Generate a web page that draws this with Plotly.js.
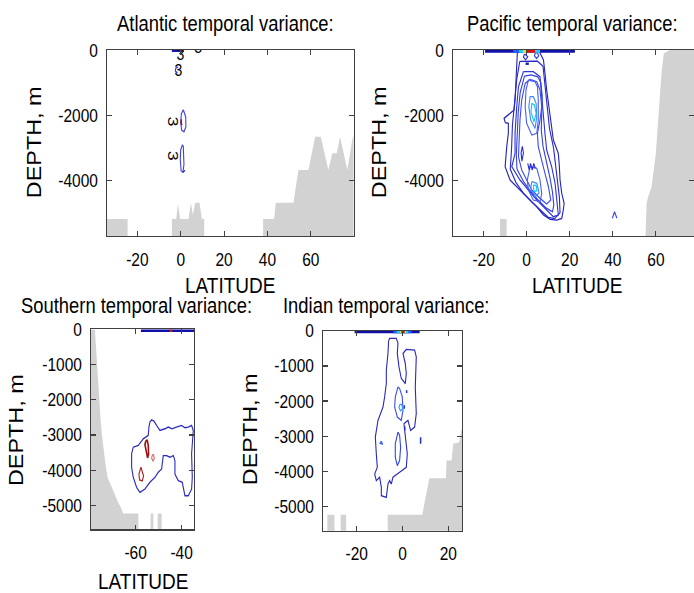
<!DOCTYPE html>
<html>
<head>
<meta charset="utf-8">
<script src="https://cdn.plot.ly/plotly-3.0.1.min.js"></script>
<style>
html,body{margin:0;padding:0;background:#fff;width:694px;height:593px;overflow:hidden;}
#chart{width:694px;height:494px;transform:scaleY(1.20040);transform-origin:0 0;}
</style>
</head>
<body>
<div id="chart"></div>
<script>
// ---------------- DATA ----------------
const panelTitles = ['Atlantic temporal variance:', 'Pacific temporal variance:', 'Southern temporal variance:', 'Indian temporal variance:'];
const xAxisTitle = 'LATITUDE';
const yAxisTitle = 'DEPTH, m';

const depthTicksTop = [0, -2000, -4000];
const depthTickTextTop = ['0', '-2000', '-4000'];
const depthTicksBottom = [0, -1000, -2000, -3000, -4000, -5000];
const depthTickTextBottom = ['0', '-1000', '-2000', '-3000', '-4000', '-5000'];
const latTicksAtl = [-20, 0, 20, 40, 60];
const latTickTextAtl = ['-20', '0', '20', '40', '60'];
const latTicksSou = [-60, -40];
const latTickTextSou = ['-60', '-40'];
const latTicksInd = [-20, 0, 20];
const latTickTextInd = ['-20', '0', '20'];

// Atlantic bathymetry (latitude, depth)
const atlBath1Lat = [-34, -34, -24.5, -24.5];
const atlBath1Dep = [-5700, -5171, -5171, -5700];
const atlBath2Lat = [-4.07, -4.07, -2.07, -1.3, -0.23, 3.6, 4.69, 5.6, 6.68, 8.66, 9.76, 10.83, 10.83];
const atlBath2Dep = [-5700, -5171, -5171, -4712, -5171, -5171, -4672, -5050, -4672, -4672, -5171, -5171, -5700];
const atlBath3Lat = [38.0, 38.0, 43.1, 43.85, 51.98, 54.3, 58.9, 62.0, 64.6, 68.1, 69.95, 71.98, 73.5, 76.86, 79.35, 81, 81];
const atlBath3Dep = [-5700, -5171, -5171, -4672, -4672, -3672, -3672, -2653, -2653, -3672, -3161, -3161, -2653, -3672, -2653, -2653, -5700];

// Atlantic contours
const atlSurfLat = [-4.1, 1.3];
const atlSurfDep = [-15, -15];
const atlSurfRedLat = [0.3, 1.3];
const atlSurfRedDep = [-15, -15];
const atlArcLat = [-1.2, -2.3, -2.5, -1.5];
const atlArcDep = [-520, -560, -640, -700];
const atlLoop1Lat = [1.2, 0.3, 0.0, 0.4, 1.5, 2.4, 2.3, 1.2];
const atlLoop1Dep = [-1830, -1950, -2200, -2450, -2500, -2350, -2050, -1830];
const atlLoop1RedLat = [0.3, 0.2, 0.5];
const atlLoop1RedDep = [-2120, -2220, -2300];
const atlLoop2Lat = [0.8, 0.0, -0.2, 0.2, 1.0, 1.5, 1.3, 1.2, 0.8];
const atlLoop2Dep = [-2900, -3050, -3350, -3700, -3740, -3500, -3150, -2950, -2900];
const atlTailLat = [1.0, 2.0];
const atlTailDep = [-3740, -3680];
// contour labels "3"
const atlLabelLat = [-0.1, -1.1, 8.1];
const atlLabelDep = [-170, -660, 40];
const atlLabelText = ['3', '3', '3'];
const atlRotLabelLat = [-3.4, -3.4];
const atlRotLabelDep = [-2194, -3244];

// Pacific bathymetry
const pacBath1Lat = [-12.4, -12.4, -9.3, -9.3];
const pacBath1Dep = [-5700, -5171, -5171, -5700];
const pacBath2Lat = [55.2, 55.7, 56.4, 58.0, 60.0, 61.5, 62.6, 63.7, 66.5, 80, 80];
const pacBath2Dep = [-5700, -4691, -4489, -4183, -3161, -1735, -713, -101, 0, 0, -5700];

// Pacific contours (outer to inner)
const pacC1Lat = [-4.3, -4.6, -4.9, -5.4, -5.85, -8.5, -10.5, -9.9, -8.5, -8.5, -9.25, -10.0, -7.7, -3.1, 0.8, 4.7, 7.8, 10.9, 14.0, 16.3, 17.0, 17.4, 16.3, 15.5, 15.2, 14.7, 12.4, 11.6, 10.1, 9.3, 8.5, 7.8, 5.9, -4.3];
const pacC1Dep = [-51, -510, -918, -1530, -1836, -1989, -2091, -2224, -2244, -2550, -2958, -3570, -3978, -4284, -4539, -4794, -5049, -5182, -5202, -5151, -4896, -4692, -4386, -3978, -3570, -3162, -2754, -2346, -1734, -1224, -714, -306, -51, -51];
const pacC1bLat = [-3.2, -4.6, -5.6, -6.6, -7.0, -7.6, -5.0, -1.5, 2.5, 6.5, 10.0, 13.0, 15.5, 15.2, 14.2, 13.5, 12.5, 10.6, 9.6, 8.6, 7.6, 5.0, -3.2];
const pacC1bDep = [-350, -900, -1600, -2300, -3000, -3650, -4050, -4380, -4660, -4920, -5120, -5160, -4980, -4500, -4000, -3500, -3000, -2400, -1700, -1000, -500, -340, -350];
const pacC2Lat = [-1.5, -3.8, -4.6, -5.4, -5.4, -6.9, -3.1, 0.8, 4.7, 9.3, 12.4, 14.7, 14.0, 13.2, 11.6, 9.3, 8.5, 7.8, 7.0, 6.2, 3.1, -1.5];
const pacC2Dep = [-663, -1122, -1734, -2550, -3162, -3570, -3978, -4284, -4590, -4896, -5100, -5049, -4590, -4080, -3570, -3060, -2550, -1938, -1224, -816, -663, -663];
const pacC2bLat = [-1.0, -3.0, -3.9, -4.4, -4.8, -4.5, -1.5, 1.6, 5.2, 9.0, 12.0, 12.6, 12.0, 10.8, 9.2, 7.6, 6.8, 6.9, 7.2, 6.6, 5.2, 2.0, -1.0];
const pacC2bDep = [-800, -1300, -1900, -2600, -3200, -3640, -4020, -4300, -4580, -4830, -4950, -4750, -4350, -3900, -3450, -2950, -2450, -1900, -1400, -1000, -820, -760, -800];
const pacC3Lat = [-0.7, -2.3, -3.1, -3.4, -3.8, -2.3, 0.0, 2.4, 6.2, 9.3, 11.2, 10.1, 8.5, 7.0, 5.4, 5.0, 6.2, 7.0, 6.2, 4.7, 1.6, -0.7];
const pacC3Dep = [-1020, -1530, -2142, -2754, -3264, -3672, -3978, -4284, -4539, -4712, -4590, -4182, -3774, -3366, -2958, -2550, -2142, -1734, -1224, -969, -898, -1020];
const pacC4uLat = [0.8, -0.3, -0.7, 0.0, 2.4, 4.7, 5.4, 5.4, 5.0, 3.9, 0.8];
const pacC4uDep = [-918, -1224, -1734, -2244, -2601, -2550, -2142, -1530, -1122, -969, -918];
const pacC4lLat = [1.6, 0.3, 0.8, 3.1, 6.2, 7.0, 6.2, 4.7, 1.6];
const pacC4lDep = [-3570, -3978, -4284, -4590, -4641, -4386, -3978, -3621, -3570];
const pacC5uLat = [1.6, 1.0, 1.9, 3.9, 4.7, 4.4, 3.1, 1.6];
const pacC5uDep = [-1428, -1734, -2142, -2397, -2040, -1632, -1428, -1428];
const pacC5lLat = [2.4, 1.9, 3.9, 5.8, 4.7, 2.4];
const pacC5lDep = [-4029, -4233, -4488, -4366, -4080, -4029];
const pacC6uLat = [2.4, 2.0, 3.4, 4.4, 3.6, 2.4];
const pacC6uDep = [-1632, -1887, -2193, -1938, -1683, -1632];
const pacC6lLat = [3.1, 3.4, 4.8, 4.4, 3.1];
const pacC6lDep = [-4131, -4335, -4304, -4141, -4131];
const pacBitLoopLat = [-2.0, -2.6, -2.2, -1.5, -2.0];
const pacBitLoopDep = [-2950, -3150, -3400, -3150, -2950];
const pacZigLat = [0.5, 1.2, 1.8, 2.6, 3.3, 4.0];
const pacZigDep = [-3470, -3670, -3470, -3670, -3470, -3620];
const pacSurfLoop1Lat = [-1.0, -1.5, -0.5, 0.5, -1.0];
const pacSurfLoop1Dep = [-120, -220, -300, -200, -120];
const pacSurfDashLat = [-0.5, 1.0];
const pacSurfDashDep = [-420, -420];
const pacSurfLoop2Lat = [4.0, 3.6, 4.6, 5.6, 5.0, 4.0];
const pacSurfLoop2Dep = [-90, -180, -260, -180, -90, -90];
const pacCaretLat = [39.8, 40.8, 41.9];
const pacCaretDep = [-5150, -4950, -5150];
// Pacific surface band (jet colours)
const pacSurfLat = [-19.3, 22.4];
const pacSurfBlueLat = [-6.3, 6.2];
const pacSurfCyanLat = [-3.5, 6.2];
const pacSurfYellowLat = [-1.7, 0.1];
const pacSurfRedLat = [0.1, 3.9];
const surfDep = [-30, -30];

// Southern bathymetry
const souBath1Lat = [-80, -80, -77.7, -77.4, -77.1, -76.7, -76.2, -75.8, -75.2, -74.5, -73.9, -73.1, -72.2, -70.5, -68.7, -67.6, -66.4, -65.4, -58.8, -58.8];
const souBath1Dep = [-5700, 0, 0, -300, -776, -1252, -1729, -2157, -2586, -3062, -3443, -3824, -4205, -4491, -4776, -4919, -5062, -5233, -5233, -5700];
const souBath2Lat = [-53.5, -53.5, -52.3, -52.3];
const souBath2Dep = [-5700, -5233, -5233, -5700];
const souBath3Lat = [-50.4, -50.4, -48.7, -48.7];
const souBath3Dep = [-5700, -5233, -5233, -5700];
// Southern contours
const souBlueLat = [-61.03, -61.75, -61.75, -61.03, -59.58, -58.13, -55.96, -53.78, -51.61, -50.16, -48.71, -48.42, -47.99, -46.54, -45.09, -43.64, -42.92, -42.92, -41.47, -39.73, -39.29, -38.57, -37.12, -35.67, -35.38, -35.67, -34.95, -35.67, -37.12, -38.57, -40.02, -41.47, -42.92, -44.08, -45.82, -47.27, -49.44, -50.89, -52.05, -53.06, -53.78, -54.22, -54.51, -56.68, -58.86, -60.31, -61.03];
const souBlueDep = [-3348, -3538, -3919, -4205, -4491, -4633, -4538, -4348, -4205, -4062, -3967, -3729, -3586, -3586, -3634, -3586, -3729, -4110, -4300, -4348, -4538, -4729, -4729, -4538, -4205, -3538, -2872, -2729, -2776, -2795, -2729, -2776, -2795, -2824, -2776, -2824, -2872, -2729, -2605, -2567, -2633, -2776, -3014, -3110, -3300, -3329, -3348];
const souRed1Lat = [-55.52, -55.96, -55.38, -54.80, -54.37, -54.51, -54.94, -55.52];
const souRed1Dep = [-3157, -3271, -3462, -3653, -3538, -3300, -3157, -3157];
const souRed2Lat = [-52.63, -53.06, -52.48, -51.90, -52.19, -52.63];
const souRed2Dep = [-3557, -3653, -3748, -3672, -3567, -3557];
const souRed3Lat = [-57.70, -58.57, -58.28, -57.12, -56.54, -57.26, -57.70];
const souRed3Dep = [-3919, -4110, -4281, -4310, -4167, -3996, -3919];
const souSurfLat = [-57.7, -34.5];
const souSurfRedLat = [-45.1, -44.1];

// Indian bathymetry
const indBath1Lat = [-32.8, -32.8, -29.7, -29.7];
const indBath1Dep = [-5700, -5238, -5238, -5700];
const indBath2Lat = [-27.0, -27.0, -24.6, -24.6];
const indBath2Dep = [-5700, -5238, -5238, -5700];
const indBath3Lat = [-6.46, -6.46, 8.66, 11.71, 18.98, 19.27, 21.45, 22.18, 24.8, 25.67, 27, 27];
const indBath3Dep = [-5700, -5238, -5238, -4199, -4199, -3694, -3694, -3217, -3170, -2836, -2700, -5700];
// Indian contours
const indALat = [-6.04, -6.33, -7.05, -7.05, -7.78, -8.51, -10.69, -11.85, -11.42, -10.98, -12.14, -11.42, -9.96, -9.23, -9.23, -7.05, -6.33, -5.60, -4.87, -4.15, -1.24, 1.67, 2.11, 1.67, 1.23, 0.65, 2.40, 3.56, 5.31, 6.03, 5.60, 6.03, 5.31, 1.67, 0.22, 1.23, 1.67, 1.23, -0.51, -1.53, -2.25, -1.96, -2.69, -5.60, -6.04];
const indADep = [-282, -644, -1121, -1502, -1883, -2169, -2550, -3027, -3503, -3884, -4075, -4265, -4170, -4456, -4694, -4742, -4361, -4265, -4361, -4170, -4027, -3884, -3503, -3217, -2931, -2645, -2550, -2836, -2741, -2359, -1597, -740, -549, -530, -644, -930, -1216, -1502, -1359, -1025, -644, -358, -215, -215, -282];
const indBLat = [-1.96, -3.13, -3.42, -2.25, -0.51, 0.22, -0.07, -1.24, -1.96];
const indBDep = [-1597, -1883, -2169, -2455, -2550, -2264, -1883, -1645, -1597];
const indCLat = [-1.09, -1.53, -0.80, 0.07, -0.37, -1.09];
const indCDep = [-2093, -2188, -2283, -2207, -2093, -2093];
const indDLat = [-1.96, -3.13, -3.13, -2.25, -1.24, -0.80, -1.24, -1.96];
const indDDep = [-2884, -3217, -3598, -3837, -3694, -3313, -2979, -2884];
const indELat = [-9.23, -9.82, -8.65, -9.23];
const indEDep = [-3141, -3198, -3236, -3141];
const indDash1Lat = [1.82, 1.82];
const indDash1Dep = [-1693, -1769];
const indDash2Lat = [0.80, 0.80];
const indDash2Dep = [-2121, -2217];
const indDash3Lat = [0.94, 1.09];
const indDash3Dep = [-2722, -2836];
const indDash4Lat = [7.92, 7.92];
const indDash4Dep = [-3027, -3217];
const indSurfLat = [-20.9, 7.5];
const indSurfBlueLat = [-4.0, 4.0];
const indSurfCyanLat = [-2.5, 2.5];
const indSurfYellowLat = [-1.0, 1.5];
const indSurfRedLat = [-0.5, 1.0];

// ---------------- STYLE / LAYOUT ----------------
// The reference figure is vertically stretched (narrow, tall lettering);
// the chart is laid out at 694x494 and stretched to 694x593 by CSS.
const FONT = '"Liberation Sans", Arial, sans-serif';
const GREY = '#d2d2d2';
const AXC = '#404040';
const W = 694, H = 593, HL = 494;

const traces = [];
function fillPoly(ax, lat, dep) {
  traces.push({type: 'scatter', mode: 'lines', x: lat, y: dep, xaxis: 'x' + ax, yaxis: 'y' + ax,
    fill: 'toself', fillcolor: GREY, line: {width: 0, color: GREY}, hoverinfo: 'skip'});
}
function cline(ax, lat, dep, color, width) {
  traces.push({type: 'scatter', mode: 'lines', x: lat, y: dep, xaxis: 'x' + ax, yaxis: 'y' + ax,
    line: {color: color, width: width || 1.1}, hoverinfo: 'skip'});
}
const A = '', P = '2', S = '3', I = '4';

// Atlantic
fillPoly(A, atlBath1Lat, atlBath1Dep);
fillPoly(A, atlBath2Lat, atlBath2Dep);
fillPoly(A, atlBath3Lat, atlBath3Dep);
cline(A, atlArcLat, atlArcDep, '#3a3ad0');
cline(A, atlLoop1Lat, atlLoop1Dep, '#4040d8');
cline(A, atlLoop1RedLat, atlLoop1RedDep, '#c00000', 1.5);
cline(A, atlLoop2Lat, atlLoop2Dep, '#4040d8');
cline(A, atlTailLat, atlTailDep, '#2020c0');
cline(A, atlSurfLat, atlSurfDep, '#1818b0', 2.5);
cline(A, atlSurfRedLat, atlSurfRedDep, '#c00000', 2.5);
traces.push({type: 'scatter', mode: 'text', x: atlLabelLat, y: atlLabelDep, text: atlLabelText,
  xaxis: 'x', yaxis: 'y', cliponaxis: true, textposition: 'middle center',
  textfont: {family: FONT, size: 14, color: '#000'}, hoverinfo: 'skip'});

// Pacific
fillPoly(P, pacBath1Lat, pacBath1Dep);
fillPoly(P, pacBath2Lat, pacBath2Dep);
cline(P, pacC1Lat, pacC1Dep, '#2222b8');
cline(P, pacC1bLat, pacC1bDep, '#2828c8');
cline(P, pacC2Lat, pacC2Dep, '#2e34d6');
cline(P, pacC2bLat, pacC2bDep, '#3440e0');
cline(P, pacC3Lat, pacC3Dep, '#3a4aea');
cline(P, pacC4uLat, pacC4uDep, '#4a5ef6');
cline(P, pacC4lLat, pacC4lDep, '#4a5ef6');
cline(P, pacC5uLat, pacC5uDep, '#3c8aff');
cline(P, pacC5lLat, pacC5lDep, '#3c8aff');
cline(P, pacC6uLat, pacC6uDep, '#18c0ff');
cline(P, pacC6lLat, pacC6lDep, '#18c0ff');
cline(P, pacBitLoopLat, pacBitLoopDep, '#2a30d0');
cline(P, pacZigLat, pacZigDep, '#2a30d0');
cline(P, pacSurfLoop1Lat, pacSurfLoop1Dep, '#2a30d0');
cline(P, pacSurfDashLat, pacSurfDashDep, '#1818b0', 2);
cline(P, pacSurfLoop2Lat, pacSurfLoop2Dep, '#3444e6');
cline(P, pacCaretLat, pacCaretDep, '#3444e6');
cline(P, pacSurfLat, surfDep, '#1010a8', 3);
cline(P, pacSurfBlueLat, surfDep, '#2060ff', 3);
cline(P, pacSurfCyanLat, surfDep, '#20d0ff', 3);
cline(P, pacSurfYellowLat, surfDep, '#f0e020', 3);
cline(P, pacSurfRedLat, surfDep, '#e01010', 3);

// Southern
fillPoly(S, souBath1Lat, souBath1Dep);
fillPoly(S, souBath2Lat, souBath2Dep);
fillPoly(S, souBath3Lat, souBath3Dep);
cline(S, souBlueLat, souBlueDep, '#2a2ac0');
cline(S, souRed1Lat, souRed1Dep, '#a01010', 1.6);
cline(S, souRed2Lat, souRed2Dep, '#d07070');
cline(S, souRed3Lat, souRed3Dep, '#b02020');
cline(S, souSurfLat, surfDep, '#1010a8', 2.5);
cline(S, souSurfRedLat, surfDep, '#d02020', 2.5);

// Indian
fillPoly(I, indBath1Lat, indBath1Dep);
fillPoly(I, indBath2Lat, indBath2Dep);
fillPoly(I, indBath3Lat, indBath3Dep);
cline(I, indALat, indADep, '#2a2ab8');
cline(I, indBLat, indBDep, '#4050e8');
cline(I, indCLat, indCDep, '#30a0ff');
cline(I, indDLat, indDDep, '#3444e6');
cline(I, indELat, indEDep, '#4060f0');
cline(I, indDash1Lat, indDash1Dep, '#2030d0', 1.5);
cline(I, indDash2Lat, indDash2Dep, '#2030d0', 1.5);
cline(I, indDash3Lat, indDash3Dep, '#2030d0', 1.5);
cline(I, indDash4Lat, indDash4Dep, '#2030d0', 1.5);
cline(I, indSurfLat, surfDep, '#1010a8', 2.5);
cline(I, indSurfBlueLat, surfDep, '#2060ff', 2.5);
cline(I, indSurfCyanLat, surfDep, '#20d0ff', 2.5);
cline(I, indSurfYellowLat, surfDep, '#f0e020', 2.5);
cline(I, indSurfRedLat, surfDep, '#e01010', 2.5);

const depthRange = [-5690, 0];
const tickFont = {family: FONT, size: 15.5, color: '#000'};
function xax(domain, range, vals, text, anchor) {
  return {domain: domain, range: range, anchor: anchor, tickvals: vals, ticktext: text,
    showgrid: false, zeroline: false, showline: true, linecolor: AXC, linewidth: 1,
    mirror: 'ticks', ticks: 'inside', ticklen: 4, tickcolor: AXC, ticklabelstandoff: 5,
    tickfont: tickFont, fixedrange: true};
}
function yax(domain, vals, text, anchor) {
  return {domain: domain, range: depthRange, anchor: anchor, tickvals: vals, ticktext: text,
    showgrid: false, zeroline: false, showline: true, linecolor: AXC, linewidth: 1,
    mirror: 'ticks', ticks: 'inside', ticklen: 5, tickcolor: AXC, ticklabelstandoff: 5,
    tickfont: tickFont, fixedrange: true};
}
// positions given in pixels of the final (stretched) 694x593 picture
function ann(text, px, py, font, angle) {
  return {text: text, x: px / W, y: 1 - py / H, xref: 'paper', yref: 'paper', showarrow: false,
    xanchor: 'center', yanchor: 'middle', textangle: angle || 0, font: font};
}
const titleFont = {family: FONT, size: 18.4, color: '#000'};
const labFont = {family: FONT, size: 19, color: '#000'};
const yLabFont = {family: FONT, size: 19.5, color: '#000'};
const annotations = [
  ann(panelTitles[0], 225, 24, titleFont),
  ann(panelTitles[1], 572.5, 24, titleFont),
  ann(panelTitles[2], 136.7, 305, titleFont),
  ann(panelTitles[3], 386.7, 305, titleFont),
  ann(xAxisTitle, 230, 285, labFont),
  ann(xAxisTitle, 576.7, 285, labFont),
  ann(xAxisTitle, 142.5, 581, labFont),
  ann(yAxisTitle, 34, 143, yLabFont, -90),
  ann(yAxisTitle, 379, 143, yLabFont, -90),
  ann(yAxisTitle, 16.7, 430, yLabFont, -90),
  ann(yAxisTitle, 250, 430, yLabFont, -90)
];
// rotated contour labels (Atlantic)
atlRotLabelLat.forEach(function (lat, i) {
  annotations.push({text: '3', x: lat, y: atlRotLabelDep[i], xref: 'x', yref: 'y', showarrow: false,
    textangle: 90, font: {family: FONT, size: 15, color: '#000'}});
});

const layout = {
  width: W, height: HL, margin: {l: 0, r: 0, t: 0, b: 0},
  paper_bgcolor: '#fff', plot_bgcolor: '#fff', showlegend: false,
  xaxis: xax([107 / W, 353.5 / W], [-34, 79.7], latTicksAtl, latTickTextAtl, 'y'),
  yaxis: yax([1 - 236 / H, 1 - 50 / H], depthTicksTop, depthTickTextTop, 'x'),
  xaxis2: xax([453 / W, 1], [-34.2, 77.7], latTicksAtl, latTickTextAtl, 'y2'),
  yaxis2: yax([1 - 236 / H, 1 - 50 / H], depthTicksTop, depthTickTextTop, 'x2'),
  xaxis3: xax([91 / W, 194.3 / W], [-79.4, -34.5], latTicksSou, latTickTextSou, 'y3'),
  yaxis3: yax([1 - 529.5 / H, 1 - 329.5 / H], depthTicksBottom, depthTickTextBottom, 'x3'),
  xaxis4: xax([323 / W, 462 / W], [-34.7, 26], latTicksInd, latTickTextInd, 'y4'),
  yaxis4: yax([1 - 530.7 / H, 1 - 330.8 / H], depthTicksBottom, depthTickTextBottom, 'x4'),
  annotations: annotations
};

Plotly.newPlot('chart', traces, layout, {staticPlot: true, displayModeBar: false});
</script>
</body>
</html>
